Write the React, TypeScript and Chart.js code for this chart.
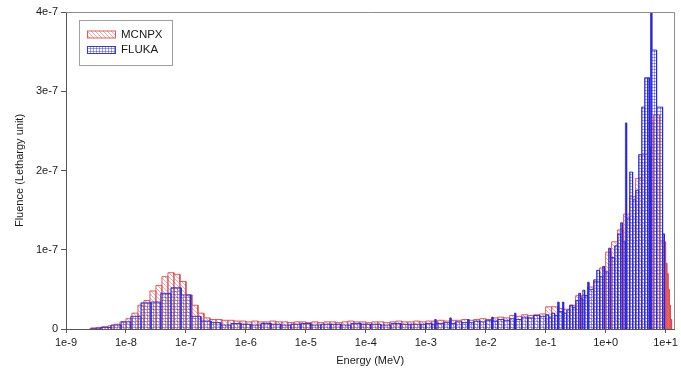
import React, { useEffect, useRef } from 'react';
import { Chart, registerables } from 'chart.js';

Chart.register(...registerables);

// ---- axis ticks ----
const xTickExponents = [-9, -8, -7, -6, -5, -4, -3, -2, -1, 0, 1];
const xTickLabels = ['1e-9', '1e-8', '1e-7', '1e-6', '1e-5', '1e-4', '1e-3', '1e-2', '1e-1', '1e+0', '1e+1'];
const yTickValues = [0, 1, 2, 3, 4]; // in units of 1e-7
const yTickLabels = ['0', '1e-7', '2e-7', '3e-7', '4e-7'];

const seriesNames = ['MCNPX', 'FLUKA'];

// ---- MCNPX: bin edges as log10(E / MeV), values in 1e-7 (lethargy units) ----
const mcnpxLogEdges = [
  -8.6, -8.5, -8.4, -8.3, -8.2, -8.1, -8.0, -7.9, -7.8, -7.7,
  -7.6, -7.5, -7.4, -7.3, -7.2, -7.1, -7.0, -6.9, -6.8, -6.7,
  -6.6, -6.5, -6.4, -6.3, -6.2, -6.1, -6.0, -5.9, -5.8, -5.7,
  -5.6, -5.5, -5.4, -5.3, -5.2, -5.1, -5.0, -4.9, -4.8, -4.7,
  -4.6, -4.5, -4.4, -4.3, -4.2, -4.1, -4.0, -3.9, -3.8, -3.7,
  -3.6, -3.5, -3.4, -3.3, -3.2, -3.1, -3.0, -2.9, -2.8, -2.7,
  -2.6, -2.5, -2.4, -2.3, -2.2, -2.1, -2.0, -1.9, -1.8, -1.7,
  -1.6, -1.5, -1.4, -1.3, -1.2, -1.1, -1.0, -0.9, -0.8, -0.7,
  -0.6, -0.5, -0.4, -0.3, -0.2, -0.1, 0.0, 0.1, 0.2, 0.3,
  0.4, 0.5, 0.6, 0.7, 0.8, 0.9, 1.0, 1.02, 1.04, 1.06,
  1.08, 1.1,
];
const mcnpxValues = [
  0.01, 0.02, 0.03, 0.04, 0.06, 0.09, 0.13, 0.20, 0.30, 0.36,
  0.48, 0.55, 0.66, 0.71, 0.69, 0.60, 0.43, 0.30, 0.20, 0.14,
  0.12, 0.12, 0.11, 0.11, 0.10, 0.10, 0.09, 0.10, 0.09, 0.09,
  0.10, 0.09, 0.09, 0.08, 0.09, 0.09, 0.08, 0.09, 0.08, 0.09,
  0.09, 0.08, 0.09, 0.10, 0.09, 0.09, 0.08, 0.09, 0.09, 0.08,
  0.09, 0.10, 0.09, 0.09, 0.10, 0.09, 0.10, 0.10, 0.11, 0.10,
  0.11, 0.11, 0.12, 0.11, 0.12, 0.13, 0.12, 0.14, 0.15, 0.14,
  0.17, 0.16, 0.18, 0.17, 0.18, 0.19, 0.28, 0.28, 0.26, 0.25,
  0.30, 0.42, 0.42, 0.53, 0.60, 0.77, 0.97, 1.10, 1.25, 1.45,
  1.67, 1.90, 2.20, 2.60, 2.70, 1.10, 0.83, 0.70, 0.50, 0.30,
  0.12,
];

// ---- FLUKA: bin edges as log10(E / MeV), values in 1e-7 ----
const flukaLogEdges = [
  -8.58, -8.42, -8.25, -8.08, -7.92, -7.75, -7.58, -7.42, -7.25, -7.08,
  -6.92, -6.75, -6.58, -6.42, -6.25, -6.08, -5.92, -5.75, -5.58, -5.42,
  -5.25, -5.08, -4.92, -4.75, -4.58, -4.42, -4.25, -4.08, -3.92, -3.75,
  -3.58, -3.42, -3.25, -3.08,
  -3.0, -2.9, -2.85, -2.83, -2.7, -2.6, -2.58, -2.5, -2.4, -2.3,
  -2.28, -2.2, -2.1, -2.0, -1.9, -1.88, -1.8, -1.7, -1.6, -1.52,
  -1.5, -1.4, -1.3, -1.2, -1.1, -1.0,
  -0.95, -0.9, -0.85, -0.8, -0.78, -0.72, -0.7, -0.65, -0.6, -0.55,
  -0.5, -0.45, -0.42, -0.38, -0.35, -0.3, -0.28, -0.2, -0.15, -0.1,
  -0.05, -0.02, 0.05, 0.08, 0.15, 0.2, 0.25, 0.28, 0.33, 0.35,
  0.4, 0.45, 0.5, 0.55, 0.6, 0.65, 0.7, 0.73, 0.75, 0.77,
  0.85, 0.95, 0.98,
];
const flukaValues = [
  0.01, 0.02, 0.05, 0.09, 0.16, 0.33, 0.34, 0.45, 0.52, 0.43,
  0.16, 0.10, 0.08, 0.05, 0.07, 0.06, 0.05, 0.07, 0.06, 0.05,
  0.06, 0.07, 0.05, 0.06, 0.06, 0.05, 0.07, 0.06, 0.06, 0.05,
  0.07, 0.06, 0.06,
  0.06, 0.07, 0.06, 0.12, 0.07, 0.08, 0.14, 0.07, 0.09, 0.08,
  0.12, 0.08, 0.10, 0.09, 0.11, 0.15, 0.10, 0.12, 0.11, 0.13,
  0.20, 0.12, 0.15, 0.14, 0.17, 0.16,
  0.18, 0.15, 0.20, 0.17, 0.34, 0.22, 0.34, 0.20, 0.24, 0.30,
  0.27, 0.36, 0.45, 0.38, 0.49, 0.42, 0.59, 0.50, 0.62, 0.74,
  0.66, 0.79, 0.72, 1.02, 0.90, 1.05, 1.20, 1.34, 1.10, 2.60,
  1.40, 1.98, 1.63, 1.75, 2.20, 2.80, 3.17, 3.17, 2.30, 3.99,
  3.52, 2.80, 1.20,
];

function histogramOutline(logEdges: number[], values: number[]) {
  const pts: { x: number; y: number }[] = [];
  const n = Math.min(values.length, logEdges.length - 1);
  for (let i = 0; i < n; i++) {
    const lo = Math.pow(10, logEdges[i]);
    const hi = Math.pow(10, logEdges[i + 1]);
    pts.push({ x: lo, y: 0 }, { x: lo, y: values[i] }, { x: hi, y: values[i] }, { x: hi, y: 0 });
  }
  return pts;
}

function makeHatch(): CanvasPattern | string {
  const s = 4;
  const c = document.createElement('canvas');
  c.width = s; c.height = s;
  const g = c.getContext('2d');
  if (!g) return 'rgba(220,80,80,0.3)';
  g.strokeStyle = 'rgba(205,95,95,0.75)';
  g.lineWidth = 0.7;
  g.beginPath();
  g.moveTo(-1, -1); g.lineTo(s + 1, s + 1);
  g.moveTo(-1, s - 1); g.lineTo(1, s + 1);
  g.moveTo(s - 1, -1); g.lineTo(s + 1, 1);
  g.stroke();
  return g.createPattern(c, 'repeat') || 'rgba(220,80,80,0.3)';
}

function makeGrid(): CanvasPattern | string {
  const s = 3;
  const c = document.createElement('canvas');
  c.width = s; c.height = s;
  const g = c.getContext('2d');
  if (!g) return 'rgba(80,80,220,0.3)';
  g.fillStyle = 'rgba(70,70,200,0.5)';
  g.fillRect(0, 0, s, 1);
  g.fillRect(0, 0, 1, s);
  return g.createPattern(c, 'repeat') || 'rgba(80,80,220,0.3)';
}

const FONT = "'Liberation Sans', Arial, sans-serif";

export default function App() {
  const ref = useRef<HTMLCanvasElement | null>(null);

  useEffect(() => {
    const canvas = ref.current;
    if (!canvas) return;
    const hatch = makeHatch();
    const grid = makeGrid();
    const red = 'rgba(226,72,72,0.9)';
    const blue = 'rgba(35,35,230,0.9)';

    const frameAndLegend = {
      id: 'frameAndLegend',
      afterDraw(chart: any) {
        const { ctx, chartArea: a } = chart;
        ctx.save();
        ctx.strokeStyle = '#8c8c8c';
        ctx.lineWidth = 1;
        ctx.beginPath();
        ctx.moveTo(a.left, Math.round(a.top) + 0.5);
        ctx.lineTo(Math.round(a.right) + 0.5, Math.round(a.top) + 0.5);
        ctx.lineTo(Math.round(a.right) + 0.5, a.bottom);
        ctx.stroke();

        // legend box
        const bx = a.left + 13.5, by = a.top + 8.5, bw = 93, bh = 45;
        ctx.fillStyle = '#ffffff';
        ctx.fillRect(bx, by, bw, bh);
        ctx.strokeStyle = '#a0a0a0';
        ctx.strokeRect(bx, by, bw, bh);
        const swatches = [
          { fill: hatch, stroke: red, y: by + 10.5 },
          { fill: grid, stroke: blue, y: by + 26 },
        ];
        ctx.font = `11.5px ${FONT}`;
        ctx.textBaseline = 'middle';
        ctx.textAlign = 'left';
        swatches.forEach((s, i) => {
          ctx.fillStyle = s.fill;
          ctx.fillRect(bx + 8, s.y, 28, 7);
          ctx.strokeStyle = s.stroke;
          ctx.strokeRect(bx + 8, s.y, 28, 7);
          ctx.fillStyle = '#1a1a1a';
          ctx.fillText(seriesNames[i], bx + 41.5, s.y + 3.5);
        });
        ctx.restore();
      },
    };

    const chart = new Chart(canvas, {
      type: 'line',
      data: {
        datasets: [
          {
            label: seriesNames[0],
            data: histogramOutline(mcnpxLogEdges, mcnpxValues),
            borderColor: red,
            borderWidth: 1,
            backgroundColor: hatch as any,
            fill: 'origin',
            pointRadius: 0,
            tension: 0,
            order: 2,
          },
          {
            label: seriesNames[1],
            data: histogramOutline(flukaLogEdges, flukaValues),
            borderColor: blue,
            borderWidth: 1,
            backgroundColor: grid as any,
            fill: 'origin',
            pointRadius: 0,
            tension: 0,
            order: 1,
          },
        ],
      },
      options: {
        responsive: false,
        animation: false,
        devicePixelRatio: 1,
        layout: { padding: { left: 0, top: 12, right: 2, bottom: 0 } },
        plugins: {
          legend: { display: false },
          tooltip: { enabled: false },
        },
        scales: {
          x: {
            type: 'logarithmic',
            min: 1e-9,
            max: 1.4e1,
            afterBuildTicks: (s: any) => {
              s.ticks = xTickExponents.map((k) => ({ value: Math.pow(10, k) }));
            },
            afterFit: (s: any) => { s.height = 41; },
            ticks: {
              autoSkip: false,
              maxRotation: 0,
              minRotation: 0,
              padding: 3,
              color: '#1a1a1a',
              font: { family: FONT, size: 11 },
              callback: (v: any) => {
                const k = Math.round(Math.log10(Number(v)));
                const idx = xTickExponents.indexOf(k);
                return idx >= 0 ? xTickLabels[idx] : '';
              },
            },
            grid: { drawOnChartArea: false, drawTicks: true, tickLength: 4, color: '#555' },
            border: { display: true, color: '#555', width: 1 },
            title: {
              display: true,
              text: 'Energy (MeV)',
              color: '#1a1a1a',
              font: { family: FONT, size: 11 },
              padding: { top: 2, bottom: 2 },
            },
          },
          y: {
            type: 'linear',
            min: 0,
            max: 4,
            afterBuildTicks: (s: any) => {
              s.ticks = yTickValues.map((v) => ({ value: v }));
            },
            afterFit: (s: any) => { s.width = 66; },
            ticks: {
              padding: 3,
              color: '#1a1a1a',
              font: { family: FONT, size: 11 },
              callback: (v: any) => {
                const idx = yTickValues.indexOf(Number(v));
                return idx >= 0 ? yTickLabels[idx] : '';
              },
            },
            grid: { drawOnChartArea: false, drawTicks: true, tickLength: 5, color: '#555' },
            border: { display: true, color: '#555', width: 1 },
            title: {
              display: true,
              text: 'Fluence (Lethargy unit)',
              color: '#1a1a1a',
              font: { family: FONT, size: 11 },
              padding: { top: 13, bottom: 4 },
            },
          },
        },
      },
      plugins: [frameAndLegend],
    } as any);

    return () => chart.destroy();
  }, []);

  return (
    <div style={{ position: 'fixed', left: 0, top: 0, width: 681, height: 370, background: '#fff' }}>
      <canvas ref={ref} width={681} height={370} style={{ display: 'block' }} />
    </div>
  );
}
